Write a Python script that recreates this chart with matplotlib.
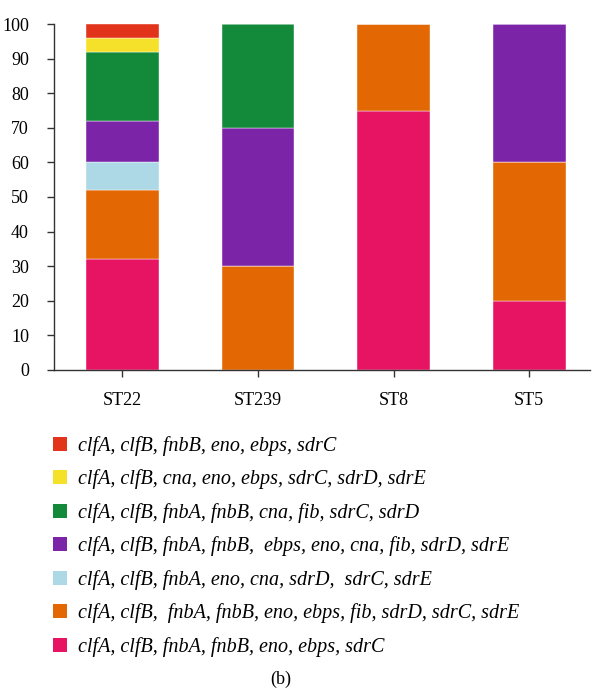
import numpy as np
import matplotlib.pyplot as plt
from matplotlib.patches import Patch

plt.rcParams['font.family'] = ['Liberation Serif', 'DejaVu Serif']

strains = ['ST22', 'ST239', 'ST8', 'ST5']

# gene profiles, bottom of stack first
profiles = [
    'clfA, clfB, fnbA, fnbB, eno, ebps, sdrC',
    'clfA, clfB,  fnbA, fnbB, eno, ebps, fib, sdrD, sdrC, sdrE',
    'clfA, clfB, fnbA, eno, cna, sdrD,  sdrC, sdrE',
    'clfA, clfB, fnbA, fnbB,  ebps, eno, cna, fib, sdrD, sdrE',
    'clfA, clfB, fnbA, fnbB, cna, fib, sdrC, sdrD',
    'clfA, clfB, cna, eno, ebps, sdrC, sdrD, sdrE',
    'clfA, clfB, fnbB, eno, ebps, sdrC',
]
colors = ['#E61463', '#E36703', '#ADD8E6', '#7B24A8', '#138A3A', '#F5E02A', '#E2341B']

# percentage of isolates per profile (rows) for each strain (columns)
pct_profile1 = [32, 0, 75, 20]
pct_profile2 = [20, 30, 25, 40]
pct_profile3 = [8, 0, 0, 0]
pct_profile4 = [12, 40, 0, 40]
pct_profile5 = [20, 30, 0, 0]
pct_profile6 = [4, 0, 0, 0]
pct_profile7 = [4, 0, 0, 0]
values = np.array([pct_profile1, pct_profile2, pct_profile3, pct_profile4,
                   pct_profile5, pct_profile6, pct_profile7], dtype=float)

fig = plt.figure(figsize=(5.92, 6.9), dpi=100)
ax = fig.add_axes([0.0912, 0.4638, 0.906, 0.5014])

x = np.arange(len(strains))
bottom = np.zeros(len(strains))
for row, c in zip(values, colors):
    ax.bar(x, row, 0.537, bottom=bottom, color=c, edgecolor='white', linewidth=0.3)
    bottom += row

ax.set_xlim(-0.504, 3.45)
ax.set_ylim(0, 100)
ax.set_yticks(range(0, 101, 10))
ax.set_xticks(x)
ax.set_xticklabels(strains)
for s in ['top', 'right']:
    ax.spines[s].set_visible(False)
for s in ['left', 'bottom']:
    ax.spines[s].set_color('#333333')
    ax.spines[s].set_linewidth(1.0)
ax.tick_params(axis='y', length=5, width=1, color='#333333', labelsize=13, pad=13)
ax.tick_params(axis='x', length=5, width=1, color='#333333', labelsize=13, pad=11)

handles = [Patch(facecolor=c, edgecolor='none') for c in colors][::-1]
leg = fig.legend(handles, profiles[::-1], loc='upper left',
                 bbox_to_anchor=(0.0895, 0.368), frameon=False,
                 handlelength=0.7, handleheight=0.7, handletextpad=0.55,
                 labelspacing=0.675, borderaxespad=0, borderpad=0,
                 prop={'family': ['Liberation Serif'], 'style': 'italic', 'size': 14.5})

fig.text(0.475, 0.003, '(b)', ha='center', va='bottom', fontsize=13)

fig.savefig('out.png', dpi=100)
